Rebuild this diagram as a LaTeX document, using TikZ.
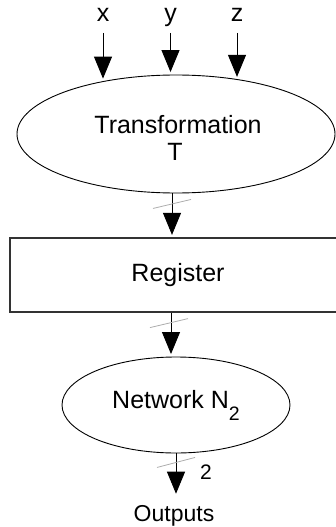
\documentclass[tikz,border=0pt]{standalone}
\usepackage{fontspec}
\setmainfont{Liberation Sans}
\usetikzlibrary{arrows.meta,shapes.geometric,calc}
\begin{document}
\begin{tikzpicture}[x=1pt,y=-1pt,
  lbl/.style={font=\fontsize{25}{27}\selectfont, inner sep=0pt, anchor=base},
  arr/.style={draw=black, line width=0.9pt, shorten >=2.5pt,
    -{Triangle[length=22pt,width=18pt]}},
  slash/.style={draw=black!32, line width=0.8pt},
  oval/.style={draw=black, line width=0.9pt, ellipse, inner sep=0pt,
    font=\fontsize{25}{27}\selectfont},
  regbox/.style={draw=black!80, line width=1.2pt, rectangle, inner sep=0pt,
    font=\fontsize{25}{27}\selectfont}]
\useasboundingbox (0,0) rectangle (336,527);
\clip (0,0) rectangle (336,527);

% input labels
\node[lbl] (lx) at (103,22) {x};
\node[lbl] (ly) at (170.5,22) {y};
\node[lbl] (lz) at (237,22) {z};

% transformation stage
\node[oval, minimum width=318pt, minimum height=118pt] (T) at (176,134) {};
\node[lbl] (tA) at (178,133) {Transformation};
\node[lbl] (tB) at (175,160) {T};

% register
\node[regbox, minimum width=336pt, minimum height=74pt] (reg) at (178,275) {Register};

% network
\node[oval, minimum width=228pt, minimum height=96pt] (N) at (176,405)
  {Network N\raisebox{-12pt}{\fontsize{19.5}{20}\selectfont 2}};

% output label
\node[lbl, font=\fontsize{23}{25}\selectfont] (out) at (174,521.5) {Outputs};
\node[lbl, font=\fontsize{21}{23}\selectfont] (w) at (206,479) {2};

% inputs into T
\draw[arr] ($(lx.base)+(0,11)$) -- (lx.base |- T.144.33);
\draw[arr] ($(ly.base)+(0,11)$) -- (ly.base |- T.north);
\draw[arr] ($(lz.base)+(0,11)$) -- (lz.base |- T.41.78);

% T to register
\coordinate (a1) at ([xshift=-4pt]T.south);
\draw[arr] (a1) -- (a1 |- reg.north);
\draw[slash] ($(a1)+(-19,15)$) -- ($(a1)+(19,6)$);

% register to network
\coordinate (a2) at ([xshift=-7pt]reg.south);
\draw[arr] (a2) -- (a2 |- N.north);
\draw[slash] ($(a2)+(-21,15)$) -- ($(a2)+(17,6)$);

% network to outputs
\coordinate (a3) at (N.south);
\draw[arr, shorten >=11.5pt] (a3) -- (a3 |- out.north);
\draw[slash] ($(a3)+(-19,14)$) -- ($(a3)+(19,4)$);
\end{tikzpicture}
\end{document}
